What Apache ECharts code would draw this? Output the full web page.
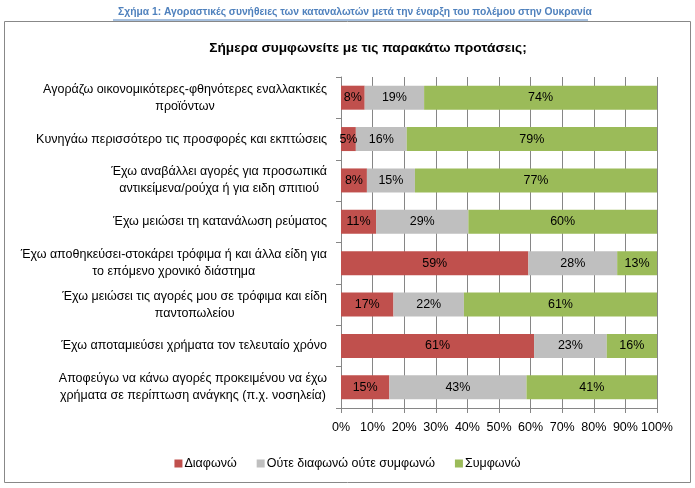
<!DOCTYPE html>
<html><head><meta charset="utf-8">
<script src="https://cdn.jsdelivr.net/npm/echarts@6/dist/echarts.min.js"></script>
<style>html,body{margin:0;padding:0;background:#fff}#c{width:695px;height:488px}</style>
</head><body><div id="c"></div>
<script>
const categories = [
  "Αγοράζω οικονομικότερες-φθηνότερες εναλλακτικές\nπροϊόντων",
  "Κυνηγάω περισσότερο τις προσφορές και εκπτώσεις",
  "Έχω αναβάλλει αγορές για προσωπικά\nαντικείμενα/ρούχα ή για ειδη σπιτιού",
  "Έχω μειώσει τη κατανάλωση ρεύματος",
  "Έχω αποθηκεύσει-στοκάρει τρόφιμα ή και άλλα είδη για\nτο επόμενο χρονικό διάστημα",
  "Έχω μειώσει τις αγορές μου σε τρόφιμα και είδη\nπαντοπωλείου",
  "Έχω αποταμιεύσει χρήματα τον τελευταίο χρόνο",
  "Αποφεύγω να κάνω αγορές προκειμένου να έχω\nχρήματα σε περίπτωση ανάγκης (π.χ. νοσηλεία)"
];
const disagree = [7.5, 4.7, 8.2, 11.1, 59.3, 16.6, 61.1, 15.3];
const neutral  = [18.8, 16.1, 15.2, 29.2, 28.1, 22.3, 23.0, 43.4];
const agree    = [73.7, 79.2, 76.6, 59.7, 12.6, 61.1, 15.9, 41.3];
const seriesNames = ["Διαφωνώ", "Ούτε διαφωνώ ούτε συμφωνώ", "Συμφωνώ"];
const xTicks = [0, 10, 20, 30, 40, 50, 60, 70, 80, 90, 100];

const FONT = "'Liberation Sans',Arial,sans-serif";
const chart = echarts.init(document.getElementById('c'), null, {renderer: 'canvas'});
const lbl = {show: true, position: 'inside', color: '#000', fontFamily: FONT, fontSize: 12.5,
  formatter: p => Math.round(p.value) + '%'};
function mk(name, data, color) {
  return {name, type: 'bar', stack: 'all', data, barCategoryGap: '42%',
    itemStyle: {color}, label: lbl, labelLayout: {hideOverlap: false}, emphasis: {disabled: true}};
}
chart.setOption({
  animation: false,
  title: [
    {text: 'Σχήμα 1: Αγοραστικές συνήθειες των καταναλωτών μετά την έναρξη του πολέμου στην Ουκρανία',
     left: 350, textAlign: 'center', top: 2,
     textStyle: {color: '#4F81BD', fontSize: 10.3, fontWeight: 'bold', fontFamily: FONT}},
    {text: 'Σήμερα συμφωνείτε με τις παρακάτω προτάσεις;', left: 363, textAlign: 'center', top: 36,
     textStyle: {color: '#000', fontSize: 13.7, fontWeight: 'bold', fontFamily: FONT}}
  ],
  graphic: [
    {type: 'rect', shape: {x: 4.5, y: 21.5, width: 686, height: 461}, silent: true,
     style: {fill: 'none', stroke: '#888', lineWidth: 1}},
    {type: 'line', shape: {x1: 113, y1: 20, x2: 588, y2: 20}, silent: true,
     style: {stroke: '#4F81BD', lineWidth: 1}}
  ],
  legend: {bottom: 13, left: 'center', itemWidth: 8, itemHeight: 8, itemGap: 20, icon: 'rect',
    textStyle: {fontFamily: FONT, fontSize: 12.5, color: '#000', padding: [0, 0, 0, -3]}, data: seriesNames},
  grid: {left: 341, right: 38, top: 77, bottom: 80, containLabel: false, outerBoundsMode: 'none'},
  xAxis: {type: 'value', min: 0, max: 100, interval: 10,
    axisLine: {show: true, lineStyle: {color: '#868686'}},
    axisTick: {show: true, length: 5, lineStyle: {color: '#868686'}},
    splitLine: {show: true, lineStyle: {color: '#868686'}},
    axisLabel: {formatter: v => xTicks.includes(v) ? v + '%' : '', color: '#000', fontFamily: FONT, fontSize: 12.5, margin: 13,
      showMinLabel: true, showMaxLabel: true, hideOverlap: false}},
  yAxis: {type: 'category', inverse: true, data: categories,
    axisLine: {show: true, lineStyle: {color: '#868686'}},
    axisTick: {show: true, length: 5, lineStyle: {color: '#868686'}},
    axisLabel: {color: '#000', fontFamily: FONT, fontSize: 12.5, margin: 14, align: 'right', lineHeight: 17,
      formatter: v => v.split('\n').map(s => '{c|' + s + '}').join('\n'),
      rich: {c: {align: 'center', fontFamily: FONT, fontSize: 12.5, lineHeight: 17, color: '#000'}}}},
  series: [
    mk(seriesNames[0], disagree, '#C0504D'),
    mk(seriesNames[1], neutral, '#BFBFBF'),
    mk(seriesNames[2], agree, '#9BBB59')
  ]
});
</script></body></html>
